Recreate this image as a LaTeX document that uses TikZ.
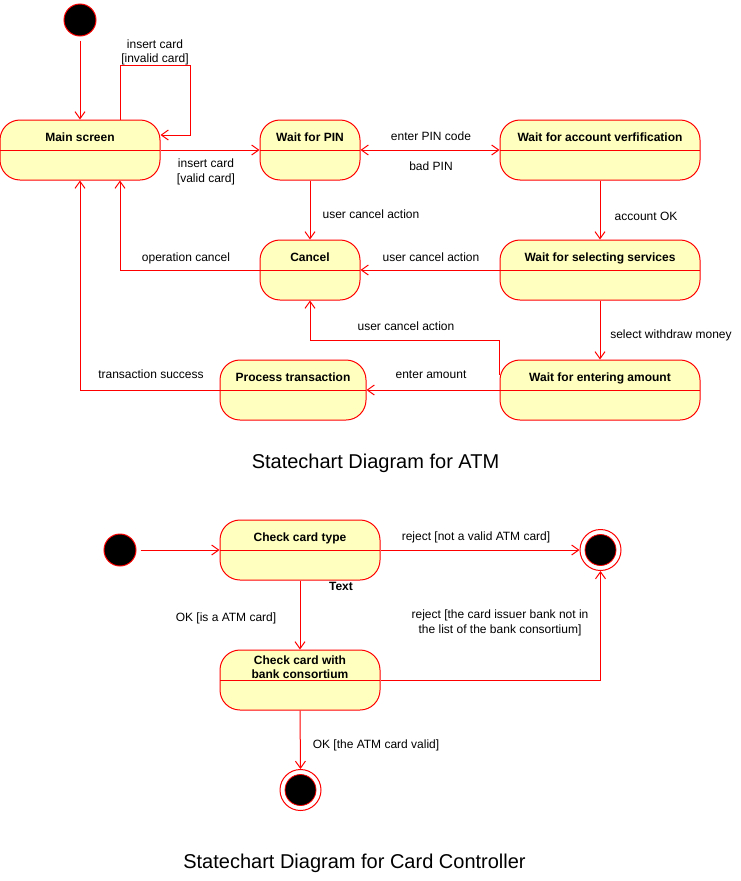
\documentclass[tikz,border=0pt]{standalone}
\usepackage{fontspec}
\setmainfont{Liberation Sans}
\usetikzlibrary{arrows.meta,calc}
\definecolor{statefill}{HTML}{FFFFC0}
\definecolor{edgered}{HTML}{FF0000}

\begin{document}
\begin{tikzpicture}[x=1pt,y=-1pt,
  state/.style={draw=edgered, fill=statefill, line width=1pt, rounded corners=20pt,
    minimum height=60pt, inner sep=0pt,
    path picture={\draw[edgered, line width=1pt] (path picture bounding box.west) -- (path picture bounding box.east);}},
  stitle/.style={font=\fontsize{12}{14}\selectfont\bfseries, inner sep=0pt, text height=8.6pt, text depth=0pt},
  stitletwo/.style={font=\fontsize{12}{14}\selectfont\bfseries, inner sep=0pt, align=center},
  lbl/.style={font=\fontsize{12}{14}\selectfont, inner sep=0pt, text height=8.6pt, text depth=0pt},
  lbltwo/.style={font=\fontsize{12}{14.5}\selectfont, inner sep=0pt, align=center},
  heading/.style={font=\fontsize{20}{24}\selectfont, inner sep=0pt, anchor=base},
  init/.style={circle, draw=edgered, fill=black, minimum size=32pt, inner sep=0pt, line width=1pt},
  final/.style={circle, draw=edgered, fill=white, minimum size=41pt, inner sep=0pt, line width=1pt,
    path picture={\draw[edgered, fill=black, line width=0.8pt] (path picture bounding box.center) circle (15.5pt);}},
  tr/.style={draw=edgered, line width=1pt, -{Straight Barb[length=7pt,width=10pt]}},
  both/.style={draw=edgered, line width=1pt, {Straight Barb[length=7pt,width=10pt]}-{Straight Barb[length=7pt,width=10pt]}}
]
\useasboundingbox (0,0) rectangle (741,881);

% ---------- ATM statechart ----------
\node[init] (start) at (80,20) {};

\node[state, minimum width=160pt] (main)   at (80,150)  {};
\node[state, minimum width=100pt] (pin)    at (310,150) {};
\node[state, minimum width=200pt] (acct)   at (600,150) {};
\node[state, minimum width=100pt] (cancel) at (310,270) {};
\node[state, minimum width=200pt] (sel)    at (600,270) {};
\node[state, minimum width=200pt] (amt)    at (600,390) {};
\node[state, minimum width=146pt] (proc)   at (293,390) {};

\node[stitle] (main-t)   at (80,137)  {Main screen};
\node[stitle] (pin-t)    at (310,137) {Wait for PIN};
\node[stitle] (acct-t)   at (600,137) {Wait for account verfification};
\node[stitle] (cancel-t) at (310,257) {Cancel};
\node[stitle] (sel-t)    at (600,257) {Wait for selecting services};
\node[stitle] (amt-t)    at (600,377) {Wait for entering amount};
\node[stitle] (proc-t)   at (293,377) {Process transaction};

\coordinate (loopturn) at (190,65);
\draw[tr, shorten <=4pt] (start) -- (main);
\draw[tr] ($(main.north)+(40,0)$) |- (loopturn) |- ($(main.east)+(0,-15)$);
\draw[tr] (main.east) -- (pin.west);
\draw[both] (pin.east) -- (acct.west);
\draw[tr] (pin.south) -- (cancel.north);
\draw[tr] (acct.south) -- (sel.north);
\draw[tr] (cancel.west) -| ($(main.south)+(40,0)$);
\draw[tr] (sel.west) -- (cancel.east);
\draw[tr] (sel.south) -- (amt.north);
\draw[tr] ($(amt.west)+(0,-15)$) -- ++(0,-35) -| (cancel.south);
\draw[tr] (amt.west) -- (proc.east);
\draw[tr] (proc.west) -| (main.south);

\node[lbltwo] (l-invalid) at (155,52.5)  {insert card\\{[}invalid card{]}};
\node[lbltwo] (l-valid)   at (206,172) {insert card\\{[}valid card{]}};
\node[lbl] (l-pin)     at (431,136) {enter PIN code};
\node[lbl] (l-bad)     at (431,166) {bad PIN};
\node[lbl] (l-cancel1) at (371,214) {user cancel action};
\node[lbl] (l-ok)      at (646,216) {account OK};
\node[lbl] (l-opc)     at (186,257) {operation cancel};
\node[lbl] (l-cancel2) at (431,257) {user cancel action};
\node[lbl] (l-cancel3) at (406,326) {user cancel action};
\node[lbl] (l-withdr)  at (671,334) {select withdraw money};
\node[lbl] (l-amount)  at (431,374) {enter amount};
\node[lbl] (l-success) at (151,374) {transaction success};

\node[heading] (title1) at (375.5,468) {Statechart Diagram for ATM};

% ---------- Card controller statechart ----------
\node[init] (start2) at (120,550) {};
\node[final] (end1) at (600.5,550) {};
\node[final] (end2) at (300.5,790) {};

\node[state, minimum width=160pt] (cct)  at (300,550) {};
\node[state, minimum width=160pt] (bank) at (300,680) {};

\node[stitle] (cct-t) at (300,537) {Check card type};
\node[stitletwo] (bank-t) at (300,667.5) {Check card with\\bank consortium};

\draw[tr, shorten <=4pt] (start2) -- (cct.west);
\draw[tr] (cct.east) -- (end1.west);
\draw[tr] (cct.south) -- (bank.north);
\draw[tr] (bank.east) -| (end1.south);
\draw[tr] (bank.south) -- (end2.north);

\node[stitle] (note) at (341,586) {Text};
\node[lbl] (l-reject1) at (476,536) {reject [not a valid ATM card]};
\node[lbl] (l-isatm)   at (226,617) {OK [is a ATM card]};
\node[lbltwo] (l-reject2) at (500,623) {reject [the card issuer bank not in\\the list of the bank consortium]};
\node[lbl] (l-valid2)  at (376,744) {OK [the ATM card valid]};

\node[heading] (title2) at (354.5,868) {Statechart Diagram for Card Controller};
\end{tikzpicture}
\end{document}
